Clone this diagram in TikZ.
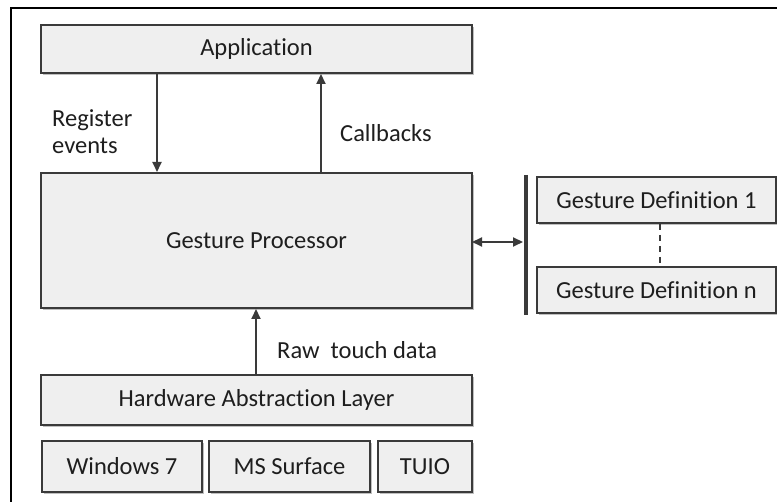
\documentclass[tikz,border=0pt]{standalone}
\usepackage{fontspec}
\setmainfont{Carlito}[Ligatures={NoCommon}]
\usetikzlibrary{arrows.meta,shadows}
\definecolor{boxfill}{HTML}{EFEFEF}
\definecolor{edge}{HTML}{3A3A3A}
\definecolor{ink}{HTML}{1E1E1E}
\tikzset{
  layer/.style={draw=edge, fill=boxfill, line width=2pt, inner sep=0pt,
    text=ink, font=\fontsize{24.5}{29}\selectfont,
    drop shadow={shadow xshift=1.5pt, shadow yshift=-2pt, opacity=0.25, fill=black}},
  lbl/.style={text=ink, font=\fontsize{24.5}{27}\selectfont, inner sep=0pt, align=left},
  flow/.style={draw=edge, line width=2pt, -{Triangle[length=10pt,width=9pt]}},
  flow2/.style={draw=edge, line width=2pt, {Triangle[length=10pt,width=9pt]}-{Triangle[length=10pt,width=9pt]}},
}
\begin{document}
\begin{tikzpicture}[x=1pt,y=-1pt]
\useasboundingbox (0,0) rectangle (777,502);
% outer frame (top and left edges)
\draw[black, line width=2.5pt] (11,502) -- (11,8) -- (777,8);

% main stack
\node[layer, minimum width=431pt, minimum height=48pt] (app) at (256.5,49) {Application};
\node[layer, minimum width=431pt, minimum height=135pt] (gp) at (256.5,240.5) {Gesture Processor};
\node[layer, minimum width=431pt, minimum height=50pt] (hal) at (256.5,400) {Hardware Abstraction Layer};
\node[layer, minimum width=160pt, minimum height=51pt] (win) at (122,466.5) {Windows 7};
\node[layer, minimum width=161pt, minimum height=51pt] (mss) at (289.5,466.5) {MS Surface};
\node[layer, minimum width=94pt, minimum height=51pt] (tuio) at (425,466.5) {TUIO};

% gesture definitions
\node[layer, minimum width=239pt, minimum height=46pt] (gd1) at (656.5,200) {Gesture Definition 1};
\node[layer, minimum width=239pt, minimum height=46pt] (gdn) at (656.5,290) {Gesture Definition n};
\draw[edge, line width=2pt, dash pattern=on 6pt off 5pt] ([xshift=3.5pt]gd1.south) -- ([xshift=3.5pt]gdn.north);

% bar joining the definitions
\coordinate (bartop) at (526,175);
\coordinate (barbot) at (526,315);
\draw[edge, line width=4pt] (bartop) -- (barbot);

% connectors
\coordinate (regtop) at (157,73);
\coordinate (cbtop) at (321,73);
\coordinate (rawbot) at (256,375);
\coordinate (gpout) at (472,242);
\coordinate (barin) at (523,242);
\draw[flow] (app.south -| regtop) -- (gp.north -| regtop);
\draw[flow] (gp.north -| cbtop) -- (app.south -| cbtop);
\draw[flow] (hal.north -| rawbot) -- (gp.south -| rawbot);
\draw[flow2] (gpout) -- (barin);

% labels
\node[lbl, anchor=west] (lreg) at (52,132) {Register\\events};
\node[lbl, anchor=west] (lcb) at (340,133) {Callbacks};
\node[lbl, anchor=west] (lraw) at (277,350) {Raw\hspace{0.45em}touch data};
\end{tikzpicture}
\end{document}
